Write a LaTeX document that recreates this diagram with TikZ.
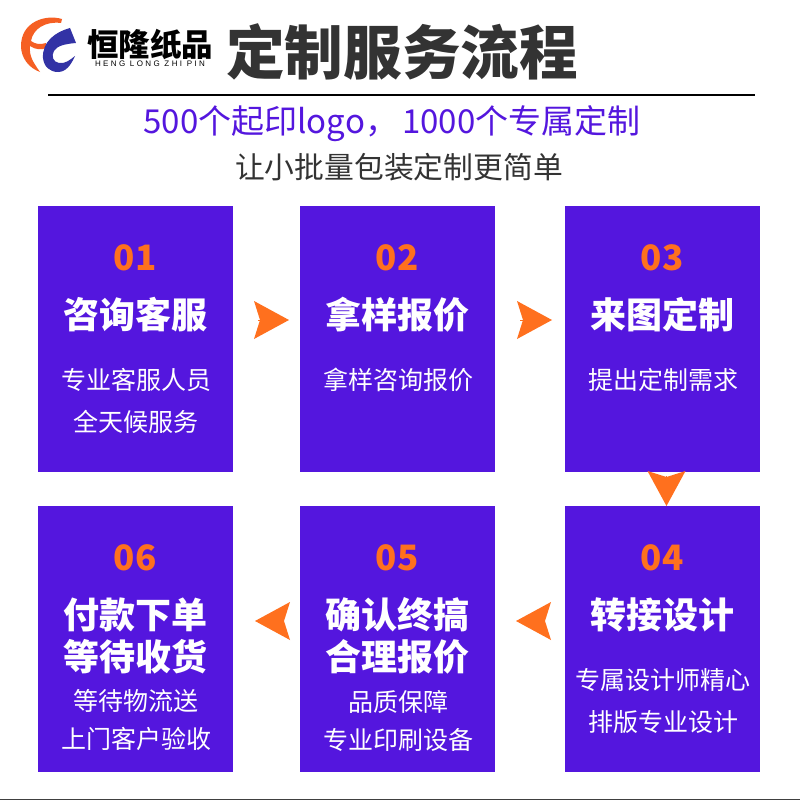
\documentclass[tikz,border=0pt]{standalone}
\usepackage{fontspec}
\setmainfont{Noto Sans CJK SC}
\newfontfamily\latinfont[LetterSpace=30]{Liberation Sans}
\usetikzlibrary{arrows.meta}
\definecolor{boxPurple}{RGB}{84,22,222}
\definecolor{flowOrange}{RGB}{255,112,30}
\definecolor{titleGray}{RGB}{51,51,51}
\definecolor{logoBlue}{RGB}{50,50,165}
\definecolor{logoOrange}{RGB}{245,95,35}
\tikzset{
  stepbox/.style={fill=boxPurple, minimum width=195pt, minimum height=266pt, inner sep=0pt, outer sep=0pt},
  stepnum/.style={text=flowOrange, font=\fontsize{35}{35}\selectfont\bfseries},
  stephead/.style={text=white, align=center, font=\fontsize{36}{42}\selectfont\bfseries},
  steptext/.style={text=white, align=center, font=\fontsize{25}{42}\selectfont},
  steptight/.style={text=white, align=center, font=\fontsize{25}{38}\selectfont},
  flowarrow/.style={draw=flowOrange, line width=0.1pt, -{Stealth[length=35pt, width=38pt, inset=6pt, line width=0pt, flowOrange]}},
}
\begin{document}
\begin{tikzpicture}[x=1pt, y=-1pt]
    \useasboundingbox (0,0) rectangle (800,800);
    \fill[white] (0,0) rectangle (800,800);
    \fill[black!75] (0,799) rectangle (800,800);
    % logo
    \fill[logoOrange] (62,19) .. controls (45,14) and (21,22) .. (21,46) .. controls (21,58) and (29,68) .. (40,72) .. controls (33,62) and (29,56) .. (30,46) .. controls (36,50) and (42,50) .. (46,48) -- (46,43) .. controls (40,45) and (35,44) .. (31,41) .. controls (33,29) and (45,21) .. (61,23) -- cycle;
    \fill[logoBlue] (70,28) .. controls (55,32) and (42,42) .. (43,58) .. controls (44,67) and (50,72) .. (58,72) .. controls (66,72) and (71,65) .. (75,56) .. controls (70,60) and (65,64) .. (59,63) .. controls (53,62) and (51,56) .. (54,51) .. controls (57,46) and (64,44) .. (76,43) -- cycle;
    \node (logotext) at (150,44) {\fontsize{31.5}{30}\selectfont\bfseries 恒隆纸品};
    \node (logosub) at (150,64) {\fontsize{8}{8}\latinfont HENG LONG ZHI PIN};
    % header
    \node[text=titleGray] (title) at (402,52) {\fontsize{58.6}{58}\selectfont\bfseries 定制服务流程};
    \draw[line width=2pt] (48,95) -- (755,95);
    \node[text=boxPurple] (subtitle) at (392,124) {\fontsize{33}{33}\selectfont 500个起印logo，\hspace{4pt}1000个专属定制};
    \node[text=titleGray] (slogan) at (399,167) {\fontsize{29.8}{30}\selectfont 让小批量包装定制更简单};
    % steps
    \node[stepbox] (box1) at (135.5,339) {};
    \node[stepbox] (box2) at (397.5,339) {};
    \node[stepbox] (box3) at (662.5,339) {};
    \node[stepbox] (box4) at (662.5,639) {};
    \node[stepbox] (box5) at (397.5,639) {};
    \node[stepbox] (box6) at (135.5,639) {};
    \node[stepnum] (num1) at (135,258) {01};
    \node[stepnum] (num2) at (397,258) {02};
    \node[stepnum] (num3) at (662,258) {03};
    \node[stepnum] (num4) at (662,558) {04};
    \node[stepnum] (num5) at (397,558) {05};
    \node[stepnum] (num6) at (135,558) {06};
    \node[stephead] (head1) at (135,315) {咨询客服};
    \node[stephead] (head2) at (397,315) {拿样报价};
    \node[stephead] (head3) at (662,315) {来图定制};
    \node[stephead] (head4) at (662,615) {转接设计};
    \node[stephead] (head5) at (397,636) {确认终搞\\合理报价};
    \node[stephead] (head6) at (135,636) {付款下单\\等待收货};
    \node[steptext] (text1) at (136,401) {专业客服人员\\全天候服务};
    \node[steptext] (text2) at (398,380) {拿样咨询报价};
    \node[steptext] (text3) at (663,380) {提出定制需求};
    \node[steptext] (text4) at (663,701) {专属设计师精心\\排版专业设计};
    \node[steptight] (text5) at (398,721) {品质保障\\专业印刷设备};
    \node[steptight] (text6) at (136,720) {等待物流送\\上门客户验收};
    % arrows
    \draw[flowarrow, shorten <=25pt, shorten >=11pt] ([yshift=19pt]box1.east) -- ([yshift=19pt]box2.west);
    \draw[flowarrow, shorten <=25pt, shorten >=13pt] ([yshift=19pt]box2.east) -- ([yshift=19pt]box3.west);
    \draw[flowarrow, shorten <=4pt] ([xshift=4pt]box3.south) -- ([xshift=4pt]box4.north);
    \draw[flowarrow, shorten <=20pt, shorten >=21pt] ([yshift=18pt]box4.west) -- ([yshift=18pt]box5.east);
    \draw[flowarrow, shorten <=18pt, shorten >=22pt] ([yshift=18pt]box5.west) -- ([yshift=18pt]box6.east);
  \end{tikzpicture}
\end{document}
